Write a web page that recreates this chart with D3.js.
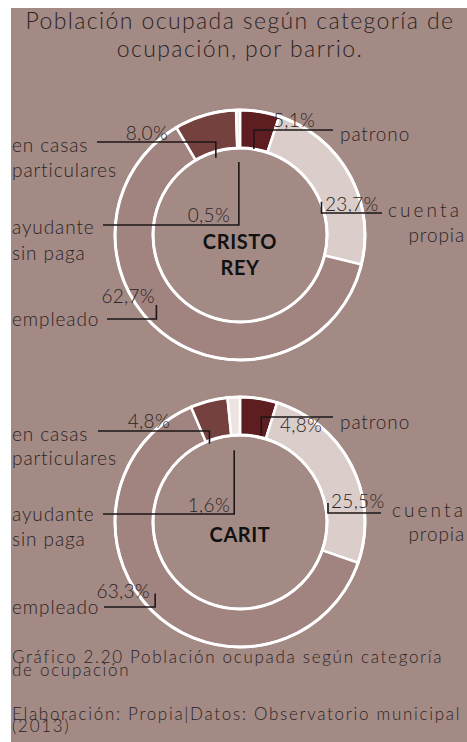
<!DOCTYPE html>
<html>
<head>
<meta charset="utf-8">
<script src="https://cdn.jsdelivr.net/npm/d3@7"></script>
<style>
body { margin: 0; background: #fff; }
svg { display: block; }
text { font-family: Lato, "Open Sans", sans-serif; font-weight: 300; fill: #2b2424; }
</style>
</head>
<body>
<svg width="467" height="742"></svg>
<script>
// datos
var categorias = ["patrono", "cuenta propia", "empleado", "en casas particulares", "ayudante sin paga"];
var etiquetas = [["patrono"], ["cuenta", "propia"], ["empleado"], ["en casas", "particulares"], ["ayudante", "sin paga"]];
var barrios = [["CRISTO", "REY"], ["CARIT"]];
var cristoRey = [5.1, 23.7, 62.7, 8.0, 0.5];
var carit = [4.8, 25.5, 63.3, 4.8, 1.6];
var titulo = ["Población ocupada según categoría de", "ocupación, por barrio."];
var pie1 = ["Gráfico 2.20 Población ocupada según categoría", "de ocupación"];
var pie2 = ["Elaboración: Propia|Datos: Observatorio municipal", "(2013)"];

var svg = d3.select("svg"),
	width = +svg.attr("width"),
	height = +svg.attr("height");

var outerR = 125, innerR = 87;

var color = d3.scaleOrdinal()
	.domain(categorias)
	.range(["#5e1d21", "#dacdca", "#a1837f", "#74413f", "#ede4e2"]);

svg.append("rect")
	.attr("x", 11).attr("y", 8)
	.attr("width", width - 11).attr("height", height - 8)
	.attr("fill", "#a38a85");

// titulo
svg.append("g").selectAll("text")
	.data(titulo)
	.enter().append("text")
		.attr("x", 240)
		.attr("y", function(d, i) { return 29 + i * 28; })
		.attr("text-anchor", "middle")
		.attr("font-size", 23)
		.attr("letter-spacing", 1.4)
		.text(function(d) { return d; });

// posiciones de las etiquetas, relativas al centro de cada dona
// ta: anclaje de cada linea de texto
var layouts = [
	[
		{lineY: -105, lineX: 93, t: 0.5, r: 87, tx: [100], ty: [-94], px: 33, py: -108, pa: "start"},
		{lineY: -22, lineX: 142, t: 0.58, r: 88, tx: [148, 225], ta: ["start", "end"], ty: [-18, 7], px: 85, py: -24, pa: "start"},
		{lineY: 84, lineX: -133, t: 0.56, r: 109, tx: [-228], ty: [91], px: -85, py: 68, pa: "end"},
		{lineY: -93, lineX: -143, t: 0.46, r: 81, tx: [-228, -228], ty: [-83, -58], px: -72, py: -95, pa: "end"},
		{lineY: -10, lineX: -137, t: 0.5, r: 73, tx: [-228, -228], ty: [-1, 25], px: -10, py: -13, pa: "end"}
	],
	[
		{lineY: -105, lineX: 93, t: 0.8, r: 89, tx: [100], ty: [-93], px: 40, py: -90, pa: "start"},
		{lineY: -9, lineX: 141, t: 0.66, r: 90, tx: [152, 225], ta: ["start", "end"], ty: [-5, 19], px: 91, py: -14, pa: "start"},
		{lineY: 85, lineX: -136, t: 0.53, r: 111, tx: [-228], ty: [92], px: -90, py: 76, pa: "end"},
		{lineY: -91, lineX: -142, t: 0.1, r: 84, tx: [-228, -228], ty: [-81, -57], px: -70, py: -94, pa: "end"},
		{lineY: -8, lineX: -137, t: 0.2, r: 72, tx: [-228, -228], ty: [-1, 24], px: -10, py: -10, pa: "end"}
	]
];

var centros = [{x: 240, y: 235}, {x: 240, y: 522}];

var pie = d3.pie().sort(null).value(function(d) { return d.value; });
var arc = d3.arc().innerRadius(innerR).outerRadius(outerR);
var fmt = function(v) { return d3.format(".1f")(v).replace(".", ",") + "%"; };

[cristoRey, carit].forEach(function(valores, b) {
	var data = categorias.map(function(c, i) { return {key: c, value: valores[i], idx: i}; });
	var arcs = pie(data);
	var g = svg.append("g")
		.attr("transform", "translate(" + centros[b].x + "," + centros[b].y + ")");

	g.selectAll("path.slice")
		.data(arcs)
		.enter().append("path")
			.attr("class", "slice")
			.attr("d", arc)
			.attr("fill", function(d) { return color(d.data.key); })
			.attr("stroke", "#fff")
			.attr("stroke-width", 2.5);

	[outerR, innerR].forEach(function(r) {
		g.append("circle").attr("r", r)
			.attr("fill", "none").attr("stroke", "#fff").attr("stroke-width", 3);
	});

	// nombre del barrio
	g.append("g").selectAll("text")
		.data(barrios[b])
		.enter().append("text")
			.attr("text-anchor", "middle")
			.attr("y", function(d, i) { return (barrios[b].length == 1 ? 20 : 14) + i * 26; })
			.attr("font-size", 20)
			.attr("letter-spacing", 0.6)
			.style("font-weight", 700)
			.style("fill", "#111")
			.text(function(d) { return d; });

	var lay = layouts[b];
	arcs.forEach(function(d, i) {
		var L = lay[i];
		var ang = d.startAngle + L.t * (d.endAngle - d.startAngle);
		var ax = L.r * Math.sin(ang), ay = -L.r * Math.cos(ang);

		g.append("path")
			.attr("d", "M" + L.lineX + "," + L.lineY + "H" + ax + "V" + ay)
			.attr("fill", "none")
			.attr("stroke", "#1c1717")
			.attr("stroke-width", 1.6);

		g.append("text")
			.attr("x", L.px).attr("y", L.py)
			.attr("text-anchor", L.pa)
			.attr("font-size", 19)
			.attr("letter-spacing", 0.3)
			.text(fmt(d.data.value));

		etiquetas[i].forEach(function(line, j) {
			g.append("text")
				.attr("x", L.tx[j]).attr("y", L.ty[j])
				.attr("text-anchor", L.ta ? L.ta[j] : "start")
				.attr("font-size", 19)
				.attr("letter-spacing", line == "cuenta" ? 3.1 : 0.9)
				.text(line);
		});
	});
});

// pie de grafico
svg.append("g").selectAll("text")
	.data(pie1.concat(pie2))
	.enter().append("text")
		.attr("x", 12)
		.attr("y", function(d, i) { return [663, 676, 720, 732][i]; })
		.attr("font-size", 17)
		.attr("letter-spacing", 1.7)
		.text(function(d) { return d; });
</script>
</body>
</html>
